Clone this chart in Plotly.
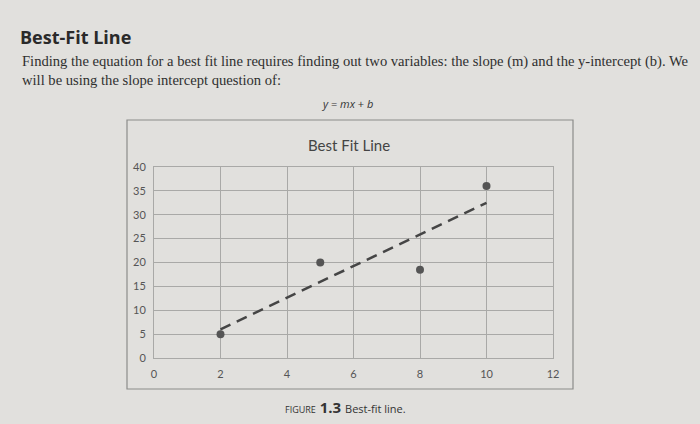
import plotly.graph_objects as go

# Scatter data
x_points = [2, 5, 8, 10]
y_points = [5, 20, 18.5, 36]

# Dashed best-fit line end points
fit_x = [2, 10]
fit_y = [6, 32.5]

x_ticks = [0, 2, 4, 6, 8, 10, 12]
y_ticks = [0, 5, 10, 15, 20, 25, 30, 35, 40]

W, H = 700, 424
L, R, T, B = 154, 553, 167, 358   # plot area in pixels


def px(x):
    return (x - L) / (R - L)


def py(y):
    return (B - y) / (B - T)


bg = "#e1e0dd"
grid = "#a9a9a7"

fig = go.Figure()

fig.add_trace(go.Scatter(
    x=fit_x, y=fit_y, mode="lines",
    line=dict(color="#454545", width=2.5, dash="11px,7px"),
    showlegend=False, hoverinfo="skip"
))
fig.add_trace(go.Scatter(
    x=x_points, y=y_points, mode="markers",
    marker=dict(color="#555555", size=8),
    showlegend=False
))

fig.update_layout(
    width=W, height=H,
    margin=dict(l=L, r=W - R, t=T, b=H - B),
    paper_bgcolor=bg, plot_bgcolor=bg,
    font=dict(family="Lato, sans-serif", color="#555555", size=11),
    xaxis=dict(range=[0, 12], tickvals=x_ticks, showgrid=True, gridcolor=grid,
               gridwidth=1, zeroline=False, showline=True, linecolor=grid,
               mirror=True, ticks="outside", ticklen=6,
               tickcolor="rgba(0,0,0,0)"),
    yaxis=dict(range=[0, 40], tickvals=y_ticks, showgrid=True, gridcolor=grid,
               gridwidth=1, zeroline=False, showline=True, linecolor=grid,
               mirror=True, ticks="outside", ticklen=5,
               tickcolor="rgba(0,0,0,0)"),
    shapes=[dict(type="rect", xref="paper", yref="paper",
                 x0=px(127), x1=px(573), y0=py(389), y1=py(120),
                 line=dict(color="#8c8c8a", width=1.2), layer="below")],
)

notes = [
    dict(text="<b>Best-Fit Line</b>", x=px(18), y=py(37), xanchor="left",
         font=dict(family="Open Sans, sans-serif", size=18, color="#2a2a2a")),
    dict(text="Finding the equation for a best fit line requires finding out two variables: "
              "the slope (m) and the y-intercept (b). We",
         x=px(20), y=py(61), xanchor="left",
         font=dict(family="Liberation Serif, serif", size=14.6, color="#2f2f2f")),
    dict(text="will be using the slope intercept question of:",
         x=px(20), y=py(80), xanchor="left",
         font=dict(family="Liberation Serif, serif", size=14.6, color="#2f2f2f")),
    dict(text="<i>y</i> = <i>mx</i> + <i>b</i>", x=px(347), y=py(103), xanchor="center",
         font=dict(family="Open Sans, sans-serif", size=11, color="#333333")),
    dict(text="Best Fit Line", x=px(349), y=py(145), xanchor="center",
         font=dict(family="Lato, sans-serif", size=15, color="#444444")),
    dict(text="<span style='font-size:9px'>FIGURE</span> <b>1.3</b> "
              "<span style='font-size:11px'>Best-fit line.</span>",
         x=px(283), y=py(407), xanchor="left",
         font=dict(family="Open Sans, sans-serif", size=15, color="#333333")),
]
for n in notes:
    fig.add_annotation(xref="paper", yref="paper", yanchor="middle",
                       showarrow=False, **n)

fig.write_html("out.html", config={"displayModeBar": False}, post_script=(
    "document.body.style.margin='0';"
    "document.body.style.background='%s';" % bg))
